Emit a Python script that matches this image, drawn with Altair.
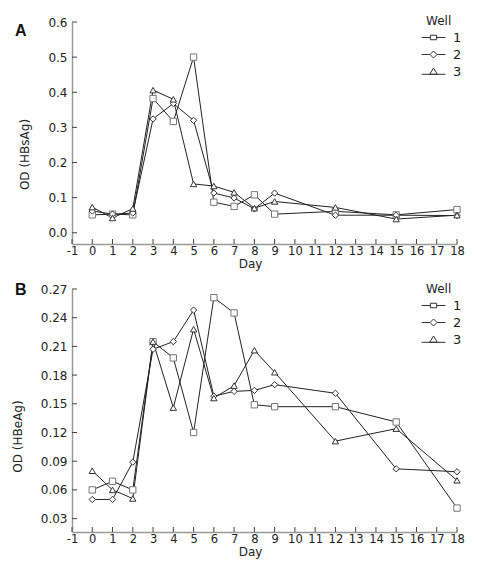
import altair as alt
import pandas as pd

days = [0, 1, 2, 3, 4, 5, 6, 7, 8, 9, 12, 15, 18]
wells = ["1", "2", "3"]

hbsag_w1 = [0.051, 0.053, 0.051, 0.382, 0.317, 0.500, 0.087, 0.075, 0.108, 0.053, 0.061, 0.051, 0.066]
hbsag_w2 = [0.062, 0.053, 0.056, 0.324, 0.368, 0.320, 0.113, 0.099, 0.068, 0.113, 0.050, 0.050, 0.049]
hbsag_w3 = [0.073, 0.042, 0.069, 0.406, 0.380, 0.139, 0.133, 0.115, 0.070, 0.089, 0.072, 0.039, 0.050]

hbeag_w1 = [0.060, 0.069, 0.060, 0.215, 0.198, 0.120, 0.261, 0.245, 0.149, 0.147, 0.147, 0.131, 0.041]
hbeag_w2 = [0.050, 0.050, 0.089, 0.207, 0.215, 0.248, 0.158, 0.163, 0.164, 0.170, 0.161, 0.082, 0.079]
hbeag_w3 = [0.080, 0.060, 0.051, 0.215, 0.146, 0.228, 0.156, 0.169, 0.206, 0.183, 0.111, 0.124, 0.070]

x_ticks = list(range(-1, 19))
hbs_ticks = [0.0, 0.1, 0.2, 0.3, 0.4, 0.5, 0.6]
hbe_ticks = [0.03, 0.06, 0.09, 0.12, 0.15, 0.18, 0.21, 0.24, 0.27]

FONT = "DejaVu Sans"

legend_paths = [
    "M-1.7,0H-0.45M0.45,0H1.7M-0.45,-0.32H0.45V0.32H-0.45Z",
    "M-1.7,0H-0.5M0.5,0H1.7M-0.5,0L0,-0.5L0.5,0L0,0.5Z",
    "M-1.7,0.4H1.7M-0.55,0.4L0,-0.5L0.55,0.4Z",
]


def make_df(series):
    rows = []
    for w, vals in zip(wells, series):
        for d, v in zip(days, vals):
            rows.append({"Day": d, "OD": v, "Well": w})
    return pd.DataFrame(rows)


def panel(df, label, label_y, ytitle, ytitle_y, ydomain, yticks, yfmt, height, legend_y):
    xscale = alt.Scale(domain=[-1, 18], nice=False, zero=False)
    yscale = alt.Scale(domain=ydomain, nice=False, zero=False)
    xaxis = alt.Axis(
        values=x_ticks, title="Day", labelExpr="'' + datum.value", ticks=False, tickSize=0,
        labelPadding=1, labelFlush=False, labelOverlap=False, labelBound=False,
        titlePadding=2, titleX=178, domainColor="#999999", domainWidth=1.5,
        labelColor="#222222", titleColor="#222222",
        labelFontSize=11.5, titleFontSize=12, labelFont=FONT, titleFont=FONT,
        titleFontWeight="normal", grid=False,
    )
    yaxis = alt.Axis(
        values=yticks, title=ytitle, format=yfmt, ticks=False, tickSize=0,
        labelPadding=5, titlePadding=16, titleY=ytitle_y, domainColor="#999999", domainWidth=1.5,
        labelColor="#222222", titleColor="#222222",
        labelFontSize=12, titleFontSize=12, labelFont=FONT, titleFont=FONT,
        titleFontWeight="normal", grid=False,
    )
    x = alt.X("Day:Q", scale=xscale, axis=xaxis)
    y = alt.Y("OD:Q", scale=yscale, axis=yaxis)
    base = alt.Chart(df)
    xt = alt.Chart(pd.DataFrame({"Day": x_ticks})).mark_rule(color="#444444", strokeWidth=1).encode(
        x=x, y=alt.value(height), y2=alt.value(height - 5)
    )
    yt = alt.Chart(pd.DataFrame({"OD": yticks})).mark_rule(color="#444444", strokeWidth=1).encode(
        y=y, x=alt.value(0), x2=alt.value(5)
    )
    lines = base.mark_line(color="#222222", strokeWidth=1).encode(
        x=x, y=y, detail="Well:N"
    )
    points = base.mark_point(filled=True, fill="white", strokeWidth=1, size=40, opacity=1).encode(
        x=x, y=y,
        shape=alt.Shape("Well:N", scale=alt.Scale(domain=wells, range=["square", "diamond", "triangle-up"]), legend=None),
        stroke=alt.Stroke("Well:N", scale=alt.Scale(domain=wells, range=["#777777", "#333333", "#333333"]), legend=None),
    )
    leg = base.mark_point(filled=False, color="#333333", strokeWidth=1).encode(
        x=x, y=y,
        shape=alt.Shape(
            "Well:N",
            scale=alt.Scale(domain=wells, range=legend_paths),
            legend=alt.Legend(
                title="Well", orient="none", legendX=354, legendY=legend_y,
                symbolSize=196, symbolStrokeWidth=1, symbolStrokeColor="#333333",
                symbolFillColor="white", symbolOpacity=1, titleFont=FONT, labelFont=FONT,
                titleFontSize=12, labelFontSize=13, titleFontWeight="normal",
                titleColor="#222222", labelColor="#222222", rowPadding=2,
                labelOffset=12, titlePadding=2,
            ),
        ),
    ).transform_filter("datum.Day < -100")
    lab = alt.Chart(pd.DataFrame({"t": [label]})).mark_text(
        font="Liberation Sans", fontWeight="bold", fontSize=16, align="left", baseline="top", color="#111111"
    ).encode(text="t:N", x=alt.value(-57), y=alt.value(label_y))
    return alt.layer(xt, yt, lines, points, leg, lab).resolve_scale(shape="independent", stroke="independent").properties(
        width=385, height=height
    )


dfa = make_df([hbsag_w1, hbsag_w2, hbsag_w3])
dfb = make_df([hbeag_w1, hbeag_w2, hbeag_w3])

pa = panel(dfa, "A", 1, "OD (HBsAg)", 132, [-0.032, 0.6], hbs_ticks, ".1f", 222, -6)
pb = panel(dfb, "B", -7, "OD (HBeAg)", 147, [0.016, 0.27], hbe_ticks, ".2f", 243, -5)

chart = alt.vconcat(pa, pb, spacing=12).resolve_scale(shape="independent", stroke="independent").resolve_legend(
    shape="independent"
).configure_view(stroke=None).properties(padding={"left": 3, "top": 8, "right": 5, "bottom": 5})

chart.save("out.html", embed_options={"renderer": "svg", "actions": False})
